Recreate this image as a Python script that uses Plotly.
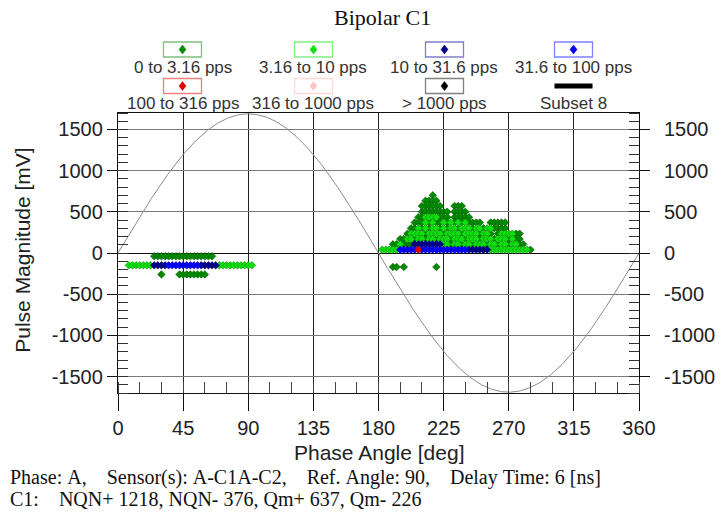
import numpy as np
import plotly.graph_objects as go

# ---------------- data ----------------
TITLE = "Bipolar C1"
SERIES_NAMES = ["0 to 3.16 pps", "3.16 to 10 pps", "10 to 31.6 pps", "31.6 to 100 pps",
                "100 to 316 pps", "316 to 1000 pps", "> 1000 pps", "Subset 8"]
SERIES_COLORS = ["#008a00", "#10e010", "#00008a", "#0000ff", "#e00000", "#ffc4c4", "#000000", "#000000"]
SERIES_EDGES = ["#005a00", "#008a00", "#000060", "#0000a0", "#900000", "#f0a0a0", "#000000", "#000000"]
BOX_EDGES = ["#80c080", "#80f080", "#8080c8", "#8080ff", "#f08080", "#ffd8d8", "#808080", "#000000"]

# rows: (pulse magnitude mV, [phase angles deg])
S1_ROWS = [  # 0 to 3.16 pps
    (-40, [25, 27.5, 30, 32.5, 35, 37.5, 40, 42.5, 45, 47.5, 50, 52.5, 55, 57.5, 60, 62.5, 65]),
    (-260, [30, 42.5, 45, 47.5, 50, 52.5, 55, 57.5, 60]),
    (700, [217.5]),
    (635, [212.5, 215, 217.5, 220]),
    (570, [210, 212.5, 215, 217.5, 220, 222.5, 232.5, 235, 237.5]),
    (500, [210, 212.5, 215, 217.5, 220, 222.5, 225, 227.5, 232.5, 235, 237.5, 240]),
    (435, [207.5, 210, 222.5, 225, 227.5, 232.5, 235, 237.5, 240, 242.5]),
    (370, [205, 207.5, 210, 215, 220, 222.5, 227.5, 232.5, 237.5, 242.5, 245, 247.5, 250,
           257.5, 260, 262.5, 265, 267.5]),
    (300, [202.5, 205, 210, 215, 222.5, 227.5, 235, 245, 252.5, 260, 262.5, 265, 267.5]),
    (235, [200, 212.5, 225, 237.5, 250, 257.5, 262.5, 275, 277.5]),
    (170, [195, 197.5, 205, 212.5, 220, 230, 240, 250, 260, 270, 275, 277.5]),
    (105, [190, 192.5, 197.5, 200, 202.5, 230, 237.5, 245, 255, 262.5, 270, 277.5, 280]),
    (40, [285]),
    (-170, [190, 192.5, 197.5, 220]),
]
S2_ROWS = [  # 3.16 to 10 pps
    (-150, [7.5, 10, 12.5, 15, 17.5, 20, 22.5, 70, 72.5, 75, 77.5, 80, 82.5, 85, 87.5, 90, 92.5]),
    (435, [212.5, 215, 217.5, 220]),
    (370, [212.5, 217.5, 225, 230, 235, 240]),
    (300, [207.5, 212.5, 217.5, 220, 225, 230, 232.5, 237.5, 240, 242.5, 247.5, 250, 255, 257.5]),
    (235, [202.5, 205, 207.5, 210, 215, 217.5, 220, 222.5, 227.5, 230, 232.5, 235, 240,
           242.5, 245, 247.5, 252.5, 255, 265, 267.5, 270, 272.5]),
    (170, [200, 202.5, 207.5, 210, 215, 217.5, 222.5, 225, 227.5, 232.5, 235, 237.5, 242.5,
           245, 247.5, 252.5, 255, 257.5, 262.5, 265, 267.5, 272.5]),
    (105, [195, 225, 227.5, 232.5, 235, 240, 242.5, 247.5, 250, 252.5, 257.5, 260,
           265, 267.5, 272.5, 275]),
    (40, [182.5, 185, 187.5, 190, 192.5, 257.5, 260, 262.5, 265, 267.5, 270, 272.5, 275, 277.5,
          280, 282.5]),
]
S3_ROWS = [  # 10 to 31.6 pps
    (-150, [25, 27.5, 30, 32.5, 57.5, 60, 62.5, 65, 67.5]),
    (105, [205, 207.5, 210, 212.5, 215, 217.5, 220, 222.5]),
    (40, [242.5, 245, 247.5, 250, 252.5, 255]),
]
S4_ROWS = [  # 31.6 to 100 pps
    (-150, [35, 37.5, 40, 42.5, 45, 47.5, 50, 52.5, 55]),
    (40, [195, 197.5, 200, 202.5, 205, 210, 212.5, 215, 217.5, 220, 222.5, 225, 227.5, 230,
          232.5, 235, 237.5, 240]),
]
S5_ROWS = [  # 100 to 316 pps
    (40, [207.5]),
]
S6_ROWS = []  # 316 to 1000 pps
S7_ROWS = []  # > 1000 pps
ALL_ROWS = [S1_ROWS, S2_ROWS, S3_ROWS, S4_ROWS, S5_ROWS, S6_ROWS, S7_ROWS]

SINE_AMPLITUDE = 1690  # reference voltage sine, mV
X_TICKS = [0, 45, 90, 135, 180, 225, 270, 315, 360]
Y_TICKS = [-1500, -1000, -500, 0, 500, 1000, 1500]
Y_TICK_LABELS = ["-1500", "-1000", "-500", "0", "500", "1000", "1500"]
X_TITLE = "Phase Angle [deg]"
Y_TITLE = "Pulse Magnitude [mV]"
INFO_LINE1 = "Phase: A,    Sensor(s): A-C1A-C2,    Ref. Angle: 90,    Delay Time: 6 [ns]"
INFO_LINE2 = "C1:    NQN+ 1218, NQN- 376, Qm+ 637, Qm- 226"

# ---------------- layout helpers ----------------
W, H = 727, 512
PL, PR, PT, PB = 118, 643, 113, 393
def xp(px):
    return (px - PL) / (PR - PL)
def yp(py):
    return (PB - py) / (PB - PT)

SANS = "Liberation Sans, Arial, sans-serif"
SERIF = "Liberation Serif, Times New Roman, serif"

fig = go.Figure()

# reference sine
ph = np.linspace(0, 360, 721)
fig.add_trace(go.Scatter(x=ph, y=SINE_AMPLITUDE * np.sin(np.radians(ph)), mode="lines",
                         line=dict(color="#8c8c8c", width=1), showlegend=False, hoverinfo="skip"))

for i, rows in enumerate(ALL_ROWS):
    xs, ys = [], []
    for mag, phases in rows:
        for p in phases:
            xs.append(p)
            ys.append(mag)
    fig.add_trace(go.Scatter(x=xs, y=ys, mode="markers", name=SERIES_NAMES[i],
                             marker=dict(symbol="diamond", size=5.8, color=SERIES_COLORS[i],
                                         line=dict(color=SERIES_EDGES[i], width=0.6)),
                             showlegend=False))

# dummy trace for the right-hand axis
fig.add_trace(go.Scatter(x=[None], y=[None], yaxis="y2", showlegend=False, hoverinfo="skip"))

shapes = []
annotations = []

# custom legend
col_x = [183, 315, 447, 577]
rows_y = [(49.5, 68), (86, 104)]
for k, name in enumerate(SERIES_NAMES):
    r, c = divmod(k, 4)
    cx = col_x[c]
    by, ly = rows_y[r]
    if k < 7:
        shapes.append(dict(type="rect", xref="paper", yref="paper", xsizemode="pixel", ysizemode="pixel",
                           xanchor=xp(cx), yanchor=yp(by), x0=-19, x1=19, y0=-7.5, y1=7.5,
                           line=dict(color=BOX_EDGES[k], width=1.3), fillcolor="white"))
        shapes.append(dict(type="path", xref="paper", yref="paper", xsizemode="pixel", ysizemode="pixel",
                           xanchor=xp(cx), yanchor=yp(by), path="M 0,4.5 L 3.5,0 L 0,-4.5 L -3.5,0 Z",
                           line=dict(color=SERIES_COLORS[k], width=0.5), fillcolor=SERIES_COLORS[k]))
    else:
        shapes.append(dict(type="rect", xref="paper", yref="paper", xsizemode="pixel", ysizemode="pixel",
                           xanchor=xp(cx), yanchor=yp(by), x0=-19, x1=19, y0=-2.5, y1=2.5,
                           line=dict(width=0), fillcolor="black"))
    annotations.append(dict(text=name, xref="paper", yref="paper", x=xp(cx), y=yp(ly),
                            xanchor="center", yanchor="middle", showarrow=False,
                            font=dict(family=SANS, size=17, color="#333")))

annotations.append(dict(text=TITLE, xref="paper", yref="paper", x=xp(385), y=yp(17),
                        xanchor="center", yanchor="middle", showarrow=False,
                        font=dict(family=SERIF, size=22, color="#111")))
annotations.append(dict(text=X_TITLE, xref="paper", yref="paper", x=xp(381), y=yp(452),
                        xanchor="center", yanchor="middle", showarrow=False,
                        font=dict(family=SANS, size=21, color="#222")))
annotations.append(dict(text=Y_TITLE, xref="paper", yref="paper", x=xp(21), y=yp(250),
                        xanchor="center", yanchor="middle", showarrow=False, textangle=-90,
                        font=dict(family=SANS, size=21, color="#222")))
annotations.append(dict(text=INFO_LINE1.replace(" ", "\u00a0"), xref="paper", yref="paper",
                        x=xp(7), y=yp(477), xanchor="left", yanchor="middle", showarrow=False,
                        font=dict(family=SERIF, size=20, color="#111")))
annotations.append(dict(text=INFO_LINE2.replace(" ", "\u00a0"), xref="paper", yref="paper",
                        x=xp(7), y=yp(499), xanchor="left", yanchor="middle", showarrow=False,
                        font=dict(family=SERIF, size=20, color="#111")))

tickfont = dict(family=SANS, size=20, color="#222")
fig.update_layout(
    width=W, height=H,
    margin=dict(l=PL, r=W - PR, t=PT, b=H - PB, pad=0),
    paper_bgcolor="white", plot_bgcolor="white",
    showlegend=False,
    shapes=shapes, annotations=annotations,
    xaxis=dict(range=[0, 360], tickmode="array", tickvals=X_TICKS, ticktext=[str(v) for v in X_TICKS],
               ticks="outside", ticklen=17, tickwidth=1.4, tickcolor="#111",
               showgrid=True, gridcolor="#222", gridwidth=1.3, zeroline=False,
               showline=True, linecolor="#111", linewidth=1.4, mirror=True,
               minor=dict(tickmode="linear", tick0=0, dtick=15, ticks="inside", ticklen=11,
                          tickcolor="#444", tickwidth=1, showgrid=False),
               tickfont=tickfont, fixedrange=True),
    yaxis=dict(range=[-1700, 1700], tickmode="array", tickvals=Y_TICKS, ticktext=Y_TICK_LABELS,
               ticks="outside", ticklen=10, tickwidth=1.4, tickcolor="#111",
               showgrid=True, gridcolor="#7a7a7a", gridwidth=1.2,
               zeroline=True, zerolinecolor="#111", zerolinewidth=1.4,
               showline=True, linecolor="#111", linewidth=1.4, mirror=True,
               minor=dict(tickmode="linear", tick0=0, dtick=100, ticks="inside", ticklen=10,
                          tickcolor="#333", tickwidth=1, showgrid=False),
               tickfont=tickfont, fixedrange=True),
    yaxis2=dict(range=[-1700, 1700], overlaying="y", side="right", tickmode="array",
                tickvals=Y_TICKS, ticktext=Y_TICK_LABELS,
                ticks="outside", ticklen=10, tickwidth=1.4, tickcolor="#111",
                ticklabelstandoff=10,
                showgrid=False, zeroline=False, showline=False,
                minor=dict(tickmode="linear", tick0=0, dtick=100, ticks="inside", ticklen=10,
                           tickcolor="#333", tickwidth=1, showgrid=False),
                tickfont=tickfont, fixedrange=True),
)

fig.write_html("out.html", config={"displayModeBar": False},
               post_script="document.body.style.margin='0';document.body.style.overflow='hidden';")
